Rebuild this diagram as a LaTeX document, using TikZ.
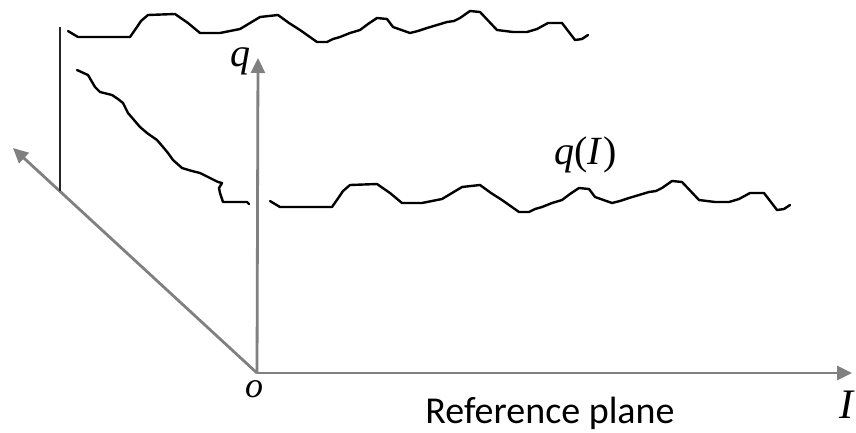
\documentclass[tikz,border=0pt]{standalone}
\usepackage{fontspec}
\setmainfont{Liberation Serif}
\newfontfamily\calib{Carlito}
\usetikzlibrary{arrows.meta}
\definecolor{axisgrey}{RGB}{128,128,128}
\tikzset{
  axisline/.style={draw=axisgrey, line width=2.8pt, -{Triangle[length=15pt,width=14pt]}},
  profile/.style={draw=black, line width=2.4pt, line join=round, line cap=round},
  backline/.style={draw=black!85, line width=2.8pt},
  italiclabel/.style={inner sep=0pt},
}
\begin{document}
\begin{tikzpicture}[x=1pt,y=-1pt]
\useasboundingbox (0,0) rectangle (856,432);
% axes
\coordinate (O) at (257,373);
\coordinate (qtip) at (258,58);
\coordinate (Itip) at (852,373);
\coordinate (dtip) at (13,148);
\draw[axisline] (O) -- (qtip);
\draw[axisline] (O) -- (Itip);
\draw[axisline] (O) -- (dtip);
% back vertical line
\coordinate (vtop) at (60,27);
\coordinate (vbot) at (60,191);
\draw[backline] (vtop) -- (vbot);
% profile (top, back plane)
\def\profilepath{(68,31) -- (78,37) -- (130,37) -- (137,27) -- (141,21) -- (148,15) -- (175,14) -- (188,23) -- (200,33) -- (220,33) -- (230,31) -- (240,29) -- (250,23) -- (260,17) -- (278,15) -- (289,23) -- (300,30) -- (317,42) -- (327,42) -- (333,39) -- (340,37) -- (350,33) -- (360,30) -- (368,24) -- (377,18) -- (387,19) -- (393,27) -- (410,33) -- (418,31) -- (427,28) -- (437,25) -- (447,22) -- (454,21) -- (460,18) -- (470,11) -- (480,12) -- (497,30) -- (513,32) -- (527,32) -- (537,29) -- (548,23) -- (562,23) -- (575,40) -- (582,39) -- (588,35)}
\draw[profile] \profilepath;
\begin{scope}[shift={(202,170)}]
\draw[profile] \profilepath;
\end{scope}
% diagonal profile on side plane
\draw[profile] (77,70) -- (88,75) -- (95,87) -- (100,92) -- (112,95) -- (118,99) -- (123,103) -- (128,113) -- (134,120) -- (140,127) -- (147,133) -- (157,140) -- (163,147) -- (168,153) -- (173,160) -- (182,168) -- (192,171) -- (200,173) -- (210,178) -- (218,182) -- (222,183) -- (219,188) -- (220,193) -- (223,202) -- (235,202) -- (247,202) -- (249,204);
% labels
\node[italiclabel, anchor=base, font=\fontsize{40}{44}\selectfont\itshape] (qlab) at (240,66) {q};
\node[italiclabel, anchor=base, font=\fontsize{36}{40}\selectfont\itshape] (olab) at (254,397) {o};
\node[italiclabel, anchor=base, font=\fontsize{42}{46}\selectfont\itshape] (Ilab) at (846,418) {I};
\node[inner sep=0pt, anchor=base west, font=\fontsize{40}{44}\selectfont] (qI) at (554,164) {\textit{q}(\textit{I}\kern1pt)};
\node[inner sep=0pt, anchor=base, font=\fontsize{38}{42}\selectfont\calib] (ref) at (550,423) {Reference plane};
\end{tikzpicture}
\end{document}
